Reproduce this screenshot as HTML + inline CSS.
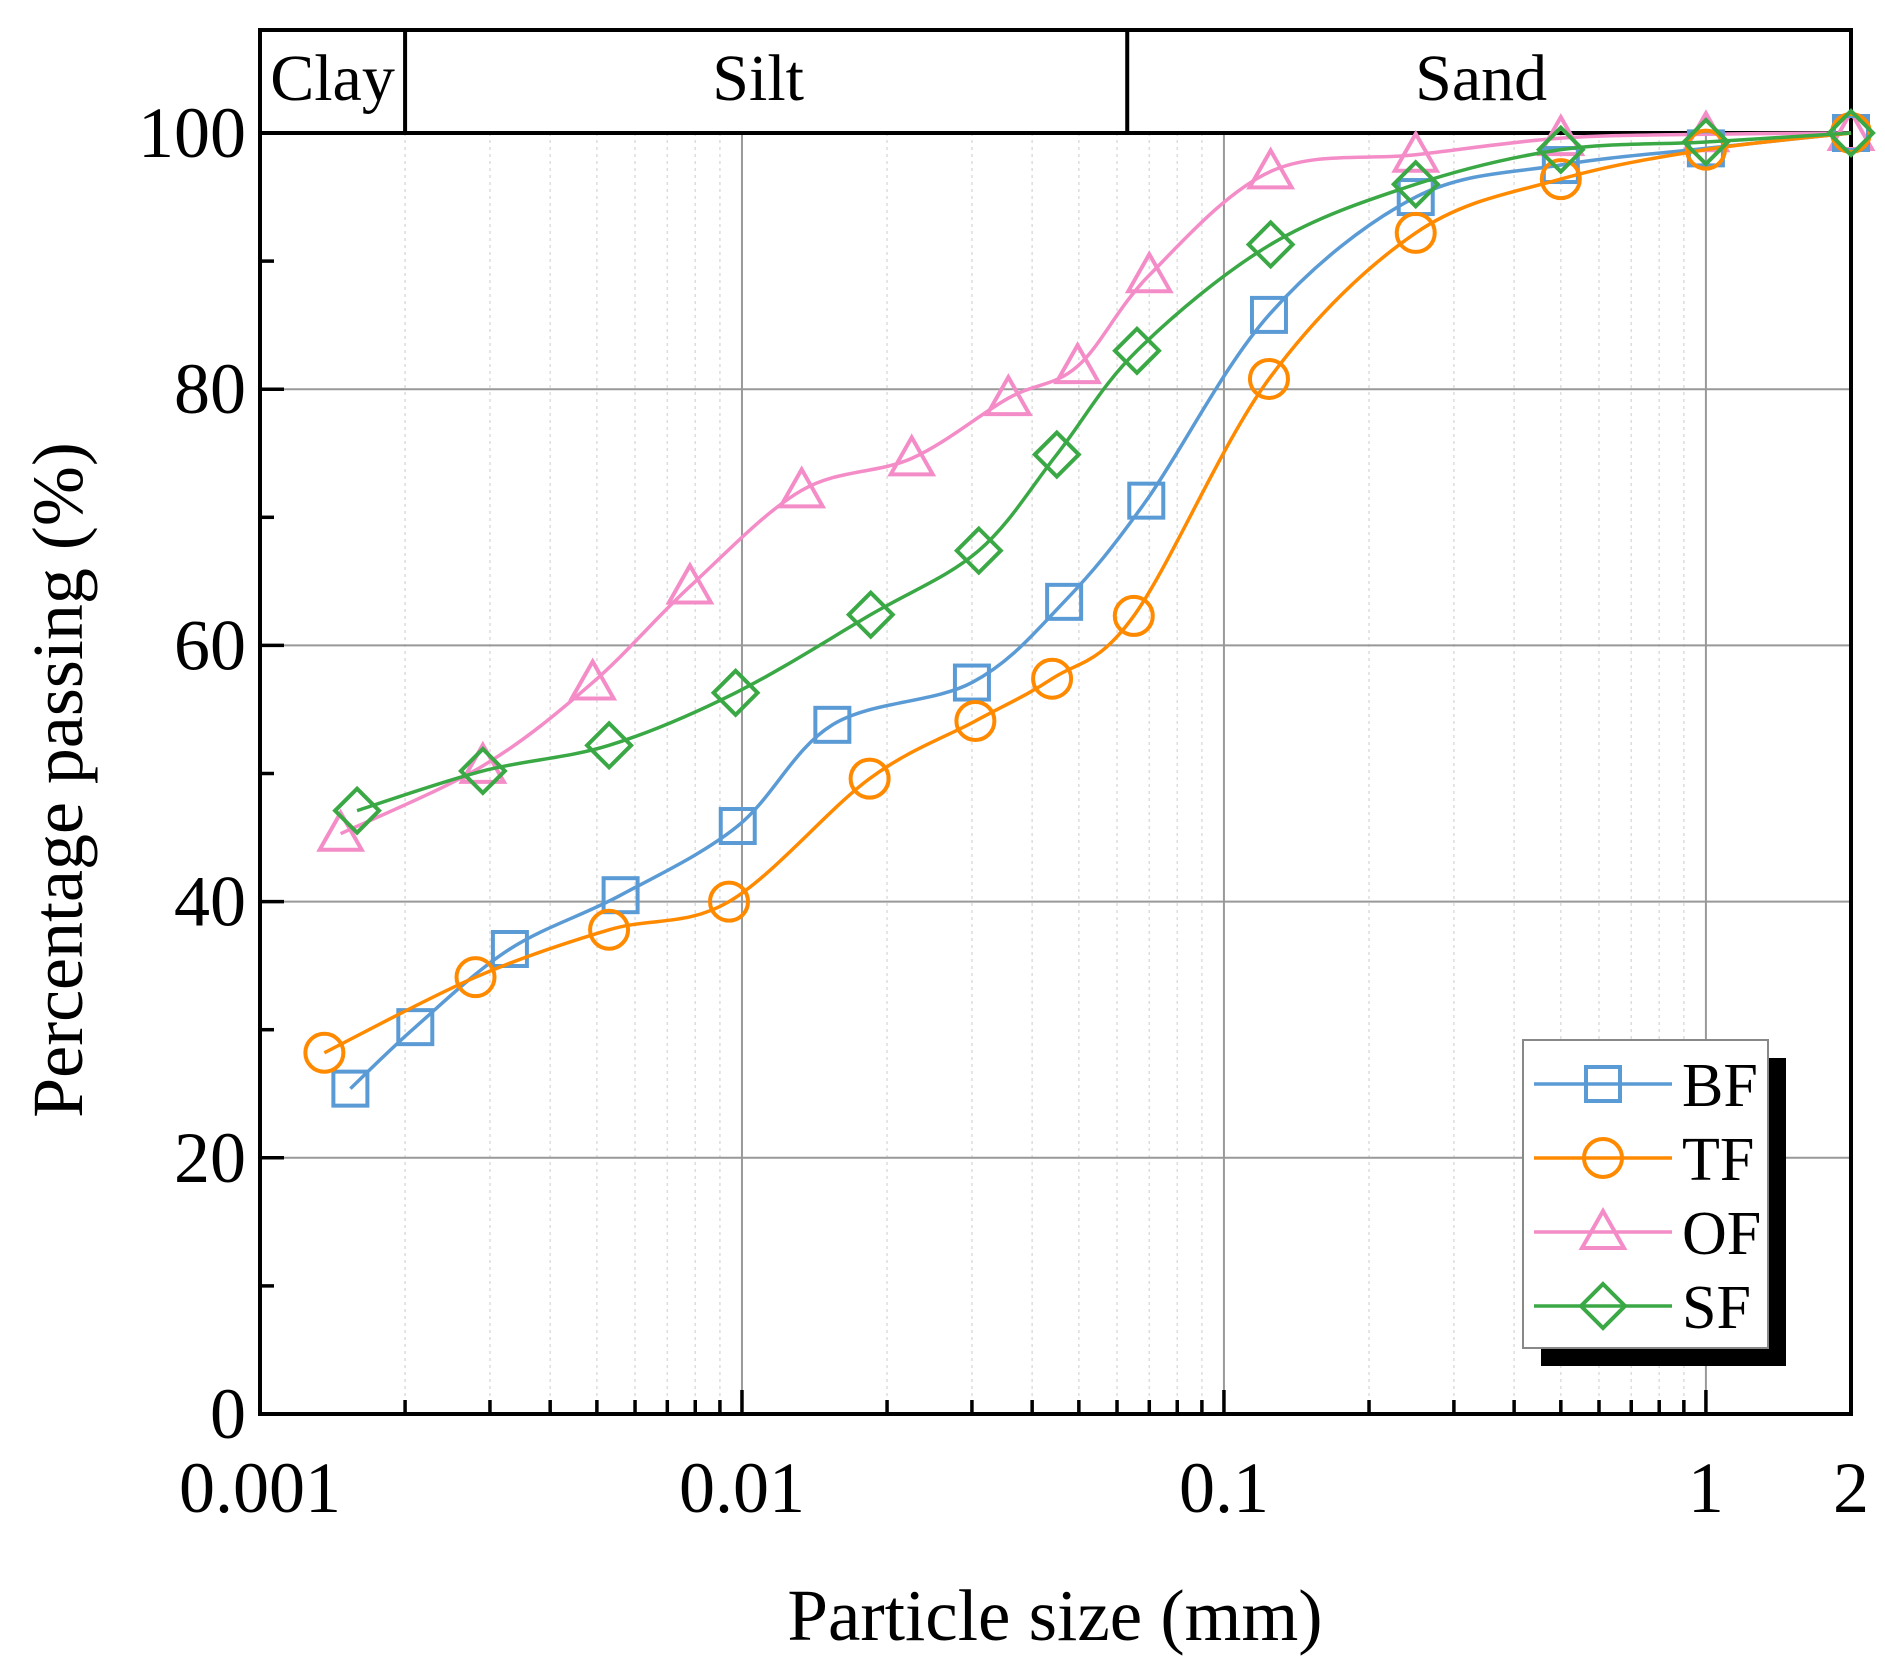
<!DOCTYPE html>
<html><head><meta charset="utf-8"><style>
html,body{margin:0;padding:0;background:#fff}
svg{display:block;font-family:"Liberation Serif",serif}
</style></head><body>
<svg id="c" width="1885" height="1668" xmlns="http://www.w3.org/2000/svg"></svg>
<script>
const seriesNames=["BF","TF","OF","SF"];
const colors=["#5b9bd5","#ff8a00","#f48cc8","#3aa845"];
const bfX=[0.00154,0.0021,0.0033,0.0056,0.0098,0.0154,0.030,0.0466,0.069,0.124,0.25,0.5,1,2];
const bfY=[25.4,30.2,36.3,40.5,45.9,53.8,57.1,63.4,71.3,85.8,95,97.5,98.8,100];
const tfX=[0.00136,0.0028,0.0053,0.0094,0.0184,0.0305,0.044,0.065,0.124,0.25,0.5,1,2];
const tfY=[28.2,34.1,37.8,40,49.6,54.1,57.4,62.3,80.8,92.2,96.4,98.7,100];
const ofX=[0.00147,0.0029,0.0049,0.0078,0.0133,0.0225,0.0357,0.0497,0.070,0.125,0.25,0.5,1,2];
const ofY=[45.3,50.6,57.1,64.6,72.1,74.6,79.3,81.8,88.9,97,98.3,99.6,99.9,100];
const sfX=[0.00159,0.0029,0.0053,0.0097,0.0185,0.031,0.045,0.066,0.125,0.25,0.5,1,2];
const sfY=[47.1,50.2,52.2,56.3,62.4,67.4,74.9,83,91.3,96,98.7,99.3,100];
const xTicks=[0.001,0.01,0.1,1,2];
const xTickLabels=["0.001","0.01","0.1","1","2"];
const yTicks=[0,20,40,60,80,100];
const zones=["Clay","Silt","Sand"];
const zoneBounds=[0.001,0.002,0.063,2];

const L=260,R=1851,T=133,B=1414,TOP=30;
const lmin=Math.log10(0.001),lmax=Math.log10(2);
const X=v=>L+(Math.log10(v)-lmin)/(lmax-lmin)*(R-L);
const Y=v=>B-v/100*(B-T);
const svg=document.getElementById('c');
const NS="http://www.w3.org/2000/svg";
function mk(tag,attrs,parent){const e=document.createElementNS(NS,tag);for(const k in attrs)e.setAttribute(k,attrs[k]);(parent||svg).appendChild(e);return e;}

const grid=mk('g',{});


for(let d=-3;d<=0;d++)for(let m=2;m<=9;m++){const v=m*Math.pow(10,d);if(v>=2)continue;
 mk('line',{x1:X(v),x2:X(v),y1:T,y2:B,stroke:'#ddd','stroke-width':1.5,'stroke-dasharray':'3,4'},grid);
 mk('line',{x1:X(v),x2:X(v),y1:B,y2:B-14,stroke:'#000','stroke-width':3.5},grid);}
for(const v of [0.01,0.1,1]) mk('line',{x1:X(v),x2:X(v),y1:T,y2:B,stroke:'#999','stroke-width':2},grid);
for(const v of [20,40,60,80]) mk('line',{x1:L,x2:R,y1:Y(v),y2:Y(v),stroke:'#999','stroke-width':2},grid);
for(let v=10;v<100;v+=20) mk('line',{x1:L,x2:L+14,y1:Y(v),y2:Y(v),stroke:'#000','stroke-width':3.5},grid);

const ax=mk('g',{});


mk('rect',{x:L,y:TOP,width:R-L,height:B-TOP,fill:'none',stroke:'#000','stroke-width':4},ax);
mk('line',{x1:L,x2:R,y1:T,y2:T,stroke:'#000','stroke-width':4},ax);
zones.forEach((z,i)=>{
 if(i>0) mk('line',{x1:X(zoneBounds[i]),x2:X(zoneBounds[i]),y1:TOP,y2:T,stroke:'#000','stroke-width':4},ax);
 const t=mk('text',{x:(X(zoneBounds[i])+X(zoneBounds[i+1]))/2+(i==0?0:-8),y:100,'text-anchor':'middle','font-size':66},ax);
 
 
 t.textContent=z;});
xTicks.forEach((v,i)=>{
 mk('line',{x1:X(v),x2:X(v),y1:B,y2:B-24,stroke:'#000','stroke-width':3.5},ax);
 const t=mk('text',{x:X(v),y:1512,'text-anchor':'middle','font-size':72},ax);
 
 
 t.textContent=xTickLabels[i];});
yTicks.forEach(v=>{
 mk('line',{x1:L,x2:L+24,y1:Y(v),y2:Y(v),stroke:'#000','stroke-width':3.5},ax);
 const t=mk('text',{x:L-14,y:Y(v)+24,'text-anchor':'end','font-size':72},ax);
 
 
 t.textContent=v;});
let t=mk('text',{x:1055,y:1640,'text-anchor':'middle','font-size':73});


t.textContent='Particle size (mm)';
t=mk('text',{x:0,y:0,'text-anchor':'middle','font-size':72,transform:'translate(82,780) rotate(-90)'});


t.textContent='Percentage passing (%)';

function path(pts){let d=`M${pts[0][0]},${pts[0][1]}`;
 for(let i=0;i<pts.length-1;i++){const p0=pts[Math.max(0,i-1)],p1=pts[i],p2=pts[i+1],p3=pts[Math.min(pts.length-1,i+2)];
  const c1=[p1[0]+(p2[0]-p0[0])/6,p1[1]+(p2[1]-p0[1])/6],c2=[p2[0]-(p3[0]-p1[0])/6,p2[1]-(p3[1]-p1[1])/6];
  d+=` C${c1[0]},${c1[1]} ${c2[0]},${c2[1]} ${p2[0]},${p2[1]}`;}return d;}
function marker(k,x,y,c,parent){const s=17;let e;
 if(k==0)e=mk('rect',{x:x-s,y:y-s,width:2*s,height:2*s},parent);
 else if(k==1)e=mk('circle',{cx:x,cy:y,r:s+2},parent);
 else if(k==2)e=mk('polygon',{points:`${x},${y-s-4} ${x+s+4},${y+s-1} ${x-s-4},${y+s-1}`},parent);
 else e=mk('polygon',{points:`${x},${y-s-5} ${x+s+5},${y} ${x},${y+s+5} ${x-s-5},${y}`},parent);
 e.setAttribute('fill','none');e.setAttribute('stroke',c);e.setAttribute('stroke-width',4);return e;}
const data=[[bfX,bfY],[tfX,tfY],[ofX,ofY],[sfX,sfY]];
[2,0,1,3].forEach(k=>{
 const g=mk('g',{});
 
 
 const pts=data[k][0].map((v,i)=>[X(v),Y(data[k][1][i])]);
 mk('path',{d:path(pts),fill:'none',stroke:colors[k],'stroke-width':3.5},g);
 pts.forEach(p=>{const m=marker(k,p[0],p[1],colors[k],g);
  });
});
const lg=mk('g',{});


mk('rect',{x:1541,y:1058,width:245,height:308,fill:'#000'},lg);
mk('rect',{x:1523,y:1040,width:245,height:308,fill:'#fff',stroke:'#888','stroke-width':2},lg);
seriesNames.forEach((n,k)=>{
 const y=1084+k*74;
 const g=mk('g',{},lg);
 
 
 mk('line',{x1:1534,x2:1672,y1:y,y2:y,stroke:colors[k],'stroke-width':3.5},g);
 marker(k,1603,y,colors[k],g);
 const tx=mk('text',{x:1682,y:y+22,'font-size':62},g);
 tx.textContent=n;});
</script>
</body></html>
